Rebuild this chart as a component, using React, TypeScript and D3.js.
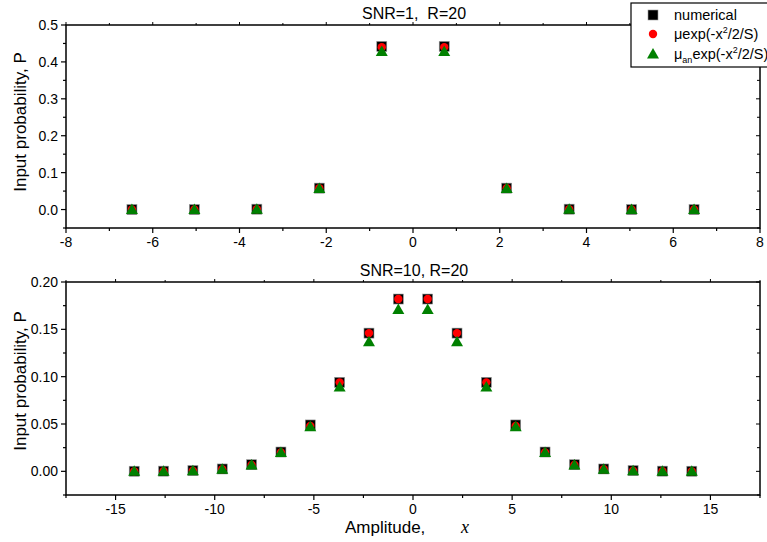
import React from "react";
import * as d3 from "d3";

// Top panel (SNR=1, R=20)
const topX = [-6.48, -5.04, -3.6, -2.16, -0.72, 0.72, 2.16, 3.6, 5.04, 6.48];
const topNumerical = [0.0, 0.0, 0.001, 0.058, 0.442, 0.442, 0.058, 0.001, 0.0, 0.0];
const topMu = [0.0, 0.0, 0.001, 0.058, 0.44, 0.44, 0.058, 0.001, 0.0, 0.0];
const topMuAn = [0.0, 0.0, 0.001, 0.057, 0.428, 0.428, 0.057, 0.001, 0.0, 0.0];

// Bottom panel (SNR=10, R=20)
const botX = [-14.06, -12.58, -11.1, -9.62, -8.14, -6.66, -5.18, -3.7, -2.22, -0.74,
  0.74, 2.22, 3.7, 5.18, 6.66, 8.14, 9.62, 11.1, 12.58, 14.06];
const botNumerical = [0.0001, 0.0002, 0.0008, 0.0025, 0.007, 0.0204, 0.049, 0.094, 0.146, 0.182,
  0.182, 0.146, 0.094, 0.049, 0.0204, 0.007, 0.0025, 0.0008, 0.0002, 0.0001];
const botMu = [0.0, 0.0002, 0.0007, 0.0022, 0.0068, 0.02, 0.048, 0.094, 0.146, 0.182,
  0.182, 0.146, 0.094, 0.048, 0.02, 0.0068, 0.0022, 0.0007, 0.0002, 0.0];
const botMuAn = [0.0, 0.0002, 0.0007, 0.0022, 0.0068, 0.02, 0.047, 0.089, 0.137, 0.171,
  0.171, 0.137, 0.089, 0.047, 0.02, 0.0068, 0.0022, 0.0007, 0.0002, 0.0];

const topXTicks = [-8, -6, -4, -2, 0, 2, 4, 6, 8];
const topYTicks = [0.0, 0.1, 0.2, 0.3, 0.4, 0.5];
const botXTicks = [-15, -10, -5, 0, 5, 10, 15];
const botYTicks = [0.0, 0.05, 0.1, 0.15, 0.2];

const titles = ["SNR=1,\u00a0 R=20", "SNR=10, R=20"];
const legendLabels = ["numerical", "μexp(-x²/2/S)", "μanexp(-x²/2/S)"];

const FONT = "'Liberation Sans', Arial, sans-serif";
const L = 66, R = 760;

type PanelProps = {
  xs: number[]; a: number[]; b: number[]; c: number[];
  xDomain: [number, number]; yDomain: [number, number];
  top: number; bottom: number;
  xTicks: number[]; xMinor: number[]; yTicks: number[]; yMinor: number[];
  yFmt: (v: number) => string; title: string; ylabelY: number;
};

function Square({ x, y }: { x: number; y: number }) {
  return <rect x={x - 5} y={y - 5} width={10} height={10} fill="#000" stroke="#999" strokeWidth={0.6} />;
}
function Circ({ x, y }: { x: number; y: number }) {
  return <circle cx={x} cy={y} r={4.2} fill="#ff0000" />;
}
function Tri({ x, y }: { x: number; y: number }) {
  const s = 6;
  return <path d={`M${x},${y - s} L${x + s},${y + 4.5} L${x - s},${y + 4.5} Z`} fill="#008000" />;
}

function Panel(p: PanelProps) {
  const xs = d3.scaleLinear().domain(p.xDomain).range([L, R]);
  const ys = d3.scaleLinear().domain(p.yDomain).range([p.bottom, p.top]);
  return (
    <g>
      <text x={(L + R) / 2 + 1} y={p.top - 6} textAnchor="middle" fontSize={16} fontFamily={FONT}>{p.title}</text>
      <rect x={L} y={p.top} width={R - L} height={p.bottom - p.top} fill="none" stroke="#000" strokeWidth={1.5} />
      {p.xTicks.map((t) => (
        <g key={"xt" + t}>
          <line x1={xs(t)} x2={xs(t)} y1={p.bottom} y2={p.bottom + 5} stroke="#000" strokeWidth={1.2} />
          <line x1={xs(t)} x2={xs(t)} y1={p.top} y2={p.top - 3} stroke="#000" strokeWidth={1} />
          <text x={xs(t)} y={p.bottom + 19} textAnchor="middle" fontSize={14} fontFamily={FONT}>{t}</text>
        </g>
      ))}
      {p.xMinor.map((t) => (
        <g key={"xm" + t}>
          <line x1={xs(t)} x2={xs(t)} y1={p.bottom} y2={p.bottom + 3} stroke="#000" strokeWidth={1.2} />
          <line x1={xs(t)} x2={xs(t)} y1={p.top} y2={p.top - 2} stroke="#000" strokeWidth={1} />
        </g>
      ))}
      {p.yTicks.map((t) => (
        <g key={"yt" + t}>
          <line x1={L} x2={L - 5} y1={ys(t)} y2={ys(t)} stroke="#000" strokeWidth={1.2} />
          <line x1={R} x2={R - 4} y1={ys(t)} y2={ys(t)} stroke="#000" strokeWidth={1} />
          <text x={L - 8} y={ys(t) + 5} textAnchor="end" fontSize={14} fontFamily={FONT}>{p.yFmt(t)}</text>
        </g>
      ))}
      {p.yMinor.map((t) => (
        <g key={"ym" + t}>
          <line x1={L} x2={L - 3} y1={ys(t)} y2={ys(t)} stroke="#000" strokeWidth={1.2} />
          <line x1={R} x2={R - 3} y1={ys(t)} y2={ys(t)} stroke="#000" strokeWidth={1} />
        </g>
      ))}
      <text transform={`translate(26,${p.ylabelY}) rotate(-90)`} textAnchor="middle" fontSize={17} fontFamily={FONT}>Input probability, P</text>
      {p.xs.map((x, i) => <Square key={"s" + i} x={xs(x)} y={ys(p.a[i])} />)}
      {p.xs.map((x, i) => <Circ key={"c" + i} x={xs(x)} y={ys(p.b[i])} />)}
      {p.xs.map((x, i) => <Tri key={"t" + i} x={xs(x)} y={ys(p.c[i])} />)}
    </g>
  );
}

export default function App() {
  const fmt1 = d3.format(".1f");
  const fmt2 = d3.format(".2f");
  return (
    <svg width={767} height={542} style={{ position: "absolute", left: 0, top: 0, background: "#fff" }}>
      <rect width={767} height={542} fill="#fff" />
      <Panel xs={topX} a={topNumerical} b={topMu} c={topMuAn}
        xDomain={[-8, 8]} yDomain={[-0.05, 0.5]} top={25} bottom={228}
        xTicks={topXTicks} xMinor={[-7, -5, -3, -1, 1, 3, 5, 7]}
        yTicks={topYTicks} yMinor={[-0.05, 0.05, 0.15, 0.25, 0.35, 0.45]}
        yFmt={fmt1} title={titles[0]} ylabelY={122} />
      <Panel xs={botX} a={botNumerical} b={botMu} c={botMuAn}
        xDomain={[-17.5, 17.5]} yDomain={[-0.025, 0.2]} top={282} bottom={495}
        xTicks={botXTicks} xMinor={[-17.5, -12.5, -7.5, -2.5, 2.5, 7.5, 12.5, 17.5]}
        yTicks={botYTicks} yMinor={[-0.025, 0.025, 0.075, 0.125, 0.175]}
        yFmt={fmt2} title={titles[1]} ylabelY={381} />
      <text x={345} y={533} fontSize={17} fontFamily={FONT}>Amplitude,</text>
      <text x={461} y={533} fontSize={18} fontFamily="'Liberation Serif', 'Times New Roman', serif" fontStyle="italic">x</text>
      <g>
        <rect x={631} y={3} width={160} height={64} fill="#fff" stroke="#000" strokeWidth={1.2} />
        <Square x={653} y={15} />
        <Circ x={653} y={34} />
        <Tri x={653} y={54} />
        <text x={674} y={20} fontSize={14.5} fontFamily={FONT}>{legendLabels[0]}</text>
        <text x={674} y={39} fontSize={14.5} fontFamily={FONT}>
          μexp(-x<tspan fontSize={9} dy={-6}>2</tspan><tspan dy={6}>/2/S)</tspan>
        </text>
        <text x={674} y={59} fontSize={14.5} fontFamily={FONT}>
          μ<tspan fontSize={9} dy={4}>an</tspan><tspan dy={-4}>exp(-x</tspan><tspan fontSize={9} dy={-6}>2</tspan><tspan dy={6}>/2/S)</tspan>
        </text>
      </g>
    </svg>
  );
}
